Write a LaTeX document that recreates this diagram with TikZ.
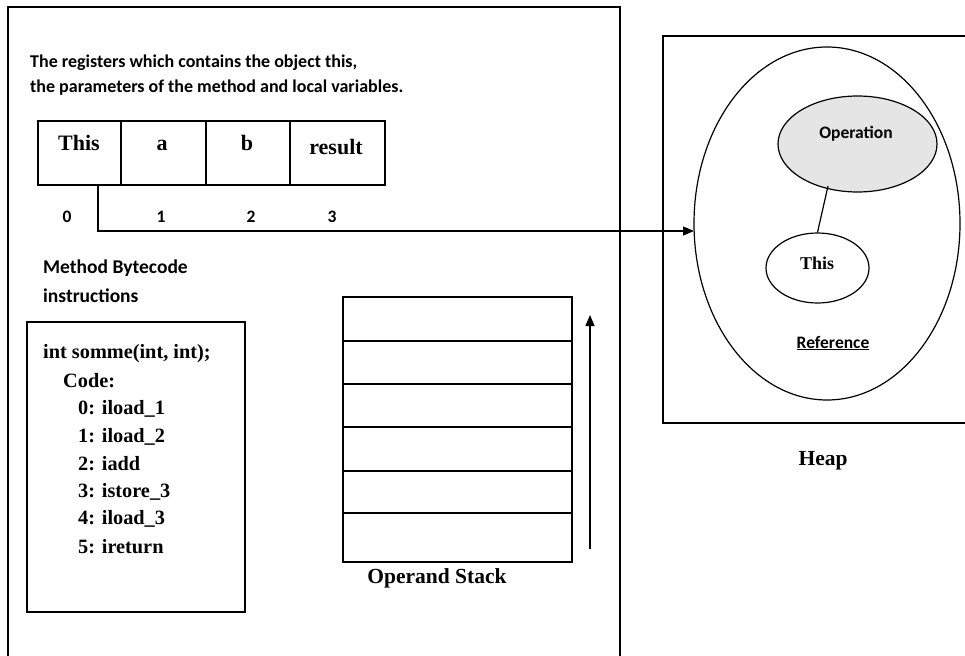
\documentclass[tikz,border=0pt]{standalone}
\usepackage{fontspec}
\setmainfont{Liberation Serif}
\newfontfamily\carlitofont{Carlito}
\usetikzlibrary{arrows.meta,shapes.geometric}
\tikzset{
  frame/.style={line width=1.6pt},
  cell/.style={draw,line width=1.6pt,rectangle,inner sep=0pt},
  sanstxt/.style={font=\carlitofont\bfseries\fontsize{19.5}{22}\selectfont,inner sep=0pt},
  desctxt/.style={font=\carlitofont\bfseries\fontsize{18}{22}\selectfont,inner sep=0pt,anchor=base west},
  smalltxt/.style={font=\carlitofont\bfseries\fontsize{17.5}{20}\selectfont,inner sep=0pt,anchor=base},
  regtxt/.style={font=\bfseries\fontsize{22}{24}\selectfont,inner sep=0pt,anchor=base},
  codetxt/.style={font=\bfseries\fontsize{20.3}{22}\selectfont,inner sep=0pt,anchor=base west},
  captxt/.style={font=\bfseries\fontsize{21.5}{24}\selectfont,inner sep=0pt,anchor=base},
  arr/.style={line width=1.4pt,-{Triangle[length=11pt,width=9pt]}},
  ell/.style={draw,ellipse,line width=1.2pt,inner sep=0pt}
}
\begin{document}
\begin{tikzpicture}[x=1pt,y=-1pt]
\useasboundingbox (0,0) rectangle (965,655);
% outer frame (open at bottom)
\draw[frame] (8,660) -- (8,7) -- (620,7) -- (620,660);
% heap frame (cut at right edge)
\draw[frame] (968,36) -- (663,36) -- (663,423) -- (968,423);

% description text
\node[desctxt] (desc1) at (30,68) {The registers which contains the object this,};
\node[desctxt] (desc2) at (30,93) {the parameters of the method and local variables.};

% registers
\node[cell,minimum width=83pt,minimum height=64pt] (r0) at (79.5,153) {};
\node[cell,minimum width=85pt,minimum height=64pt] (r1) at (163.5,153) {};
\node[cell,minimum width=84pt,minimum height=64pt] (r2) at (248,153) {};
\node[cell,minimum width=95pt,minimum height=64pt] (r3) at (337.5,153) {};
\node[regtxt] (t0) at (79,151) {This};
\node[regtxt] (t1) at (162,151) {a};
\node[regtxt] (t2) at (247,151) {b};
\node[regtxt] (t3) at (336,155) {result};
\node[smalltxt] (i0) at (67,222) {0};
\node[smalltxt] (i1) at (161,222) {1};
\node[smalltxt] (i2) at (251,222) {2};
\node[smalltxt] (i3) at (332,222) {3};

% method text
\node[sanstxt,anchor=base west] (m1) at (43,273) {Method Bytecode};
\node[sanstxt,anchor=base west] (m2) at (43,302) {instructions};

% code box
\node[cell,minimum width=218pt,minimum height=290pt] (code) at (136,467) {};
\node[codetxt] (c1) at (43,358) {int somme(int, int);};
\node[codetxt] (c2) at (63,387) {Code:};
\node[codetxt] (c3) at (78,414) {0: iload\_1};
\node[codetxt] (c4) at (78,442) {1: iload\_2};
\node[codetxt] (c5) at (78,470) {2: iadd};
\node[codetxt] (c6) at (78,497) {3: istore\_3};
\node[codetxt] (c7) at (78,524) {4: iload\_3};
\node[codetxt] (c8) at (78,553) {5: ireturn};

% operand stack
\node[cell,minimum width=229pt,minimum height=44pt] (s1) at (457.5,319) {};
\node[cell,minimum width=229pt,minimum height=43pt] (s2) at (457.5,362.5) {};
\node[cell,minimum width=229pt,minimum height=43pt] (s3) at (457.5,405.5) {};
\node[cell,minimum width=229pt,minimum height=44pt] (s4) at (457.5,449) {};
\node[cell,minimum width=229pt,minimum height=42pt] (s5) at (457.5,492) {};
\node[cell,minimum width=229pt,minimum height=49pt] (s6) at (457.5,537.5) {};
\coordinate (sa) at (590,549);
\coordinate (sb) at (590,315);
\draw[arr] (sa) -- (sb);
\node[captxt] (opst) at (437,583) {Operand Stack};

% heap contents
\node[ell,minimum width=266pt,minimum height=353pt] (big) at (827,223.5) {};
\node[ell,fill=black!10,minimum width=159pt,minimum height=96pt] (oper) at (857.5,144) {};
\node[smalltxt] (opertxt) at (856,139) {Operation};
\node[ell,minimum width=103pt,minimum height=70pt] (thisell) at (817.5,268) {};
\node[font=\bfseries\fontsize{18}{22}\selectfont,inner sep=0pt,anchor=base] (thistxt) at (817,269) {This};
\coordinate (ol) at (828,186);
\draw[line width=1.2pt] (ol) -- (thisell.north);
\node[smalltxt] (ref) at (833,348) {\underline{Reference}};
\node[captxt] (heap) at (823,465) {Heap};

% reference arrow
\coordinate (c0) at (98,185);
\coordinate (tgt) at (694,231);
\draw[arr] (c0) |- (tgt);
\end{tikzpicture}
\end{document}
